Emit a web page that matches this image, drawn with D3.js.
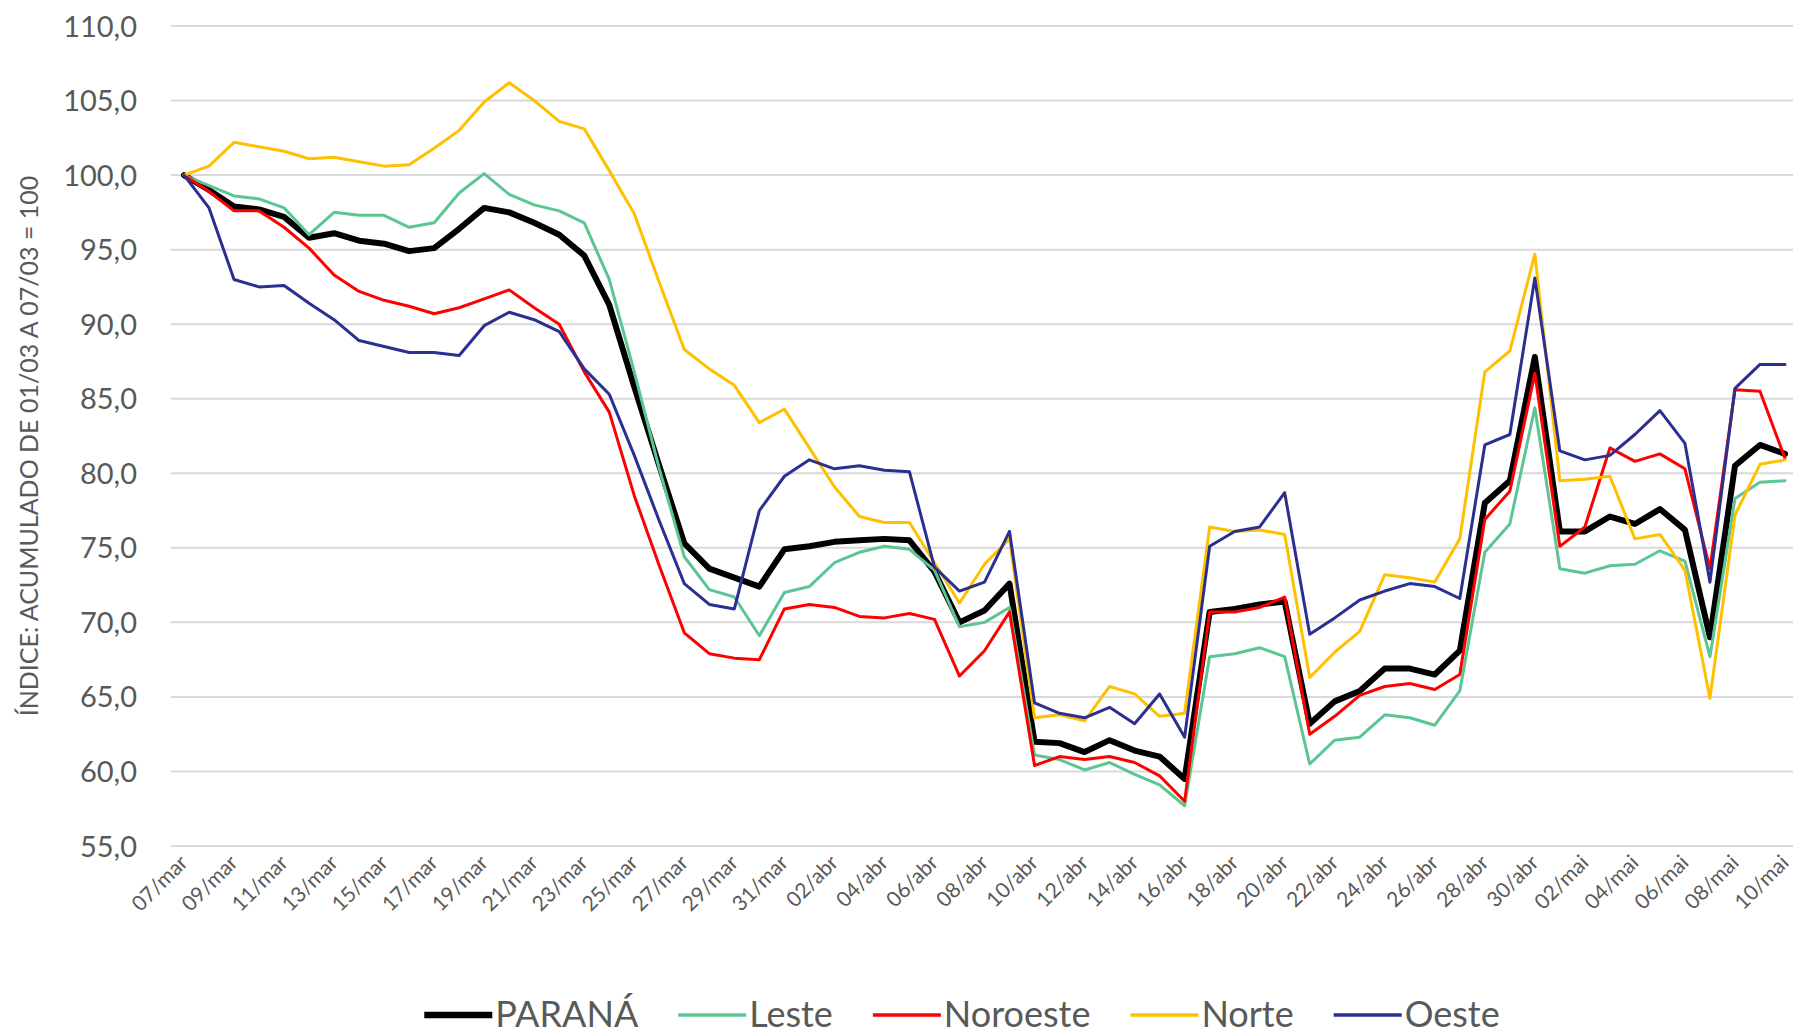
<!DOCTYPE html>
<html>
<head>
<meta charset="utf-8">
<script src="https://d3js.org/d3.v7.min.js"></script>
<style>
  body{
    margin:0;
    background:#fff;
    font-family: Lato, "Open Sans", sans-serif;
  }
  .grid-line{
    stroke:#d9d9d9;
    stroke-width:2px;
  }
  .axis-label{
    fill:#595959;
  }
  .series-line{
    fill:none;
    stroke-linejoin:round;
    stroke-linecap:round;
  }
</style>
</head>
<body>
<div id="chart"></div>
<script>
// categories: one per day, 07/mar to 10/mai
const monthNames = ['jan','fev','mar','abr','mai'];
const days = d3.timeDays(new Date(2020, 2, 7), new Date(2020, 4, 11));
const categories = days.map(d => d3.timeFormat('%d')(d) + '/' + monthNames[d.getMonth()]);

const parana = [100.0,99.0,97.9,97.7,97.2,95.8,96.1,95.6,95.4,94.9,95.1,96.4,97.8,97.5,96.8,96.0,94.6,91.3,85.8,80.5,
  75.3,73.6,73.0,72.4,74.9,75.1,75.4,75.5,75.6,75.5,73.4,70.0,70.8,72.6,62.0,61.9,61.3,62.1,61.4,61.0,
  59.5,70.7,70.9,71.2,71.4,63.2,64.7,65.4,66.9,66.9,66.5,68.1,78.0,79.5,87.8,76.1,76.1,77.1,76.6,77.6,
  76.2,69.0,80.5,81.9,81.3];
const leste = [100.0,99.3,98.6,98.4,97.8,96.0,97.5,97.3,97.3,96.5,96.8,98.8,100.1,98.7,98.0,97.6,96.8,93.0,86.8,80.3,
  74.4,72.2,71.7,69.1,72.0,72.4,74.0,74.7,75.1,74.9,73.5,69.7,70.0,71.0,61.1,60.8,60.1,60.6,59.8,59.1,
  57.7,67.7,67.9,68.3,67.7,60.5,62.1,62.3,63.8,63.6,63.1,65.4,74.7,76.6,84.4,73.6,73.3,73.8,73.9,74.8,
  74.1,67.7,78.3,79.4,79.5];
const noroeste = [100.0,98.9,97.6,97.6,96.5,95.1,93.3,92.2,91.6,91.2,90.7,91.1,91.7,92.3,91.1,90.0,86.8,84.1,78.5,73.8,
  69.3,67.9,67.6,67.5,70.9,71.2,71.0,70.4,70.3,70.6,70.2,66.4,68.1,70.7,60.4,61.0,60.8,61.0,60.6,59.7,
  58.0,70.7,70.7,71.0,71.7,62.5,63.7,65.1,65.7,65.9,65.5,66.5,76.9,78.8,86.7,75.1,76.4,81.7,80.8,81.3,
  80.3,73.6,85.6,85.5,81.0];
const norte = [100.0,100.6,102.2,101.9,101.6,101.1,101.2,100.9,100.6,100.7,101.8,103.0,104.9,106.2,105.0,103.6,103.1,100.3,97.4,92.8,
  88.3,87.0,85.9,83.4,84.3,81.7,79.1,77.1,76.7,76.7,74.0,71.3,73.9,75.6,63.6,63.8,63.4,65.7,65.2,63.7,
  63.9,76.4,76.1,76.2,75.9,66.3,68.0,69.4,73.2,73.0,72.7,75.6,86.8,88.2,94.7,79.5,79.6,79.8,75.6,75.9,
  73.5,64.9,77.2,80.6,80.9];
const oeste = [100.0,97.8,93.0,92.5,92.6,91.4,90.3,88.9,88.5,88.1,88.1,87.9,89.9,90.8,90.3,89.5,87.0,85.3,81.2,76.8,
  72.6,71.2,70.9,77.5,79.8,80.9,80.3,80.5,80.2,80.1,73.7,72.1,72.7,76.1,64.6,63.9,63.6,64.3,63.2,65.2,
  62.3,75.1,76.1,76.4,78.7,69.2,70.3,71.5,72.1,72.6,72.4,71.6,81.9,82.6,93.1,81.5,80.9,81.2,82.6,84.2,
  82.0,72.7,85.7,87.3,87.3];

const seriesNames = ['PARANÁ', 'Leste', 'Noroeste', 'Norte', 'Oeste'];
const seriesValues = [parana, leste, noroeste, norte, oeste];
const seriesColors = ['#000000', '#5cc594', '#ff0000', '#ffc000', '#2b2f8f'];
const seriesWidths = [6, 3, 3, 3, 3];

const yTicks = d3.range(55, 111, 5);
const yTitle = 'ÍNDICE: ACUMULADO DE 01/03 A 07/03 = 100';

const width = 1793;
const height = 1034;

const svg = d3.select('#chart')
  .append('svg')
  .attr('width', width)
  .attr('height', height);

const x = d3.scalePoint()
  .domain(categories)
  .range([184, 1785]);

const y = d3.scaleLinear()
  .domain([55, 110])
  .range([846, 26]);

const fmt = v => d3.format('.1f')(v).replace('.', ',');

// grid + y labels
svg.append('g')
  .selectAll('line')
  .data(yTicks)
  .join('line')
  .attr('class', 'grid-line')
  .attr('x1', 171)
  .attr('x2', width)
  .attr('y1', d => y(d))
  .attr('y2', d => y(d));

svg.append('g')
  .selectAll('text')
  .data(yTicks)
  .join('text')
  .attr('class', 'axis-label')
  .attr('x', 137)
  .attr('y', d => y(d) + 10.5)
  .attr('text-anchor', 'end')
  .style('font-size', '29px')
  .text(fmt);

// y title
svg.append('text')
  .attr('class', 'axis-label')
  .attr('transform', 'translate(38,446) rotate(-90)')
  .attr('text-anchor', 'middle')
  .style('font-size', '25px')
  .text(yTitle);

// x labels, every second day
svg.append('g')
  .selectAll('text')
  .data(categories.filter((c, i) => i % 2 === 0))
  .join('text')
  .attr('class', 'axis-label')
  .attr('text-anchor', 'end')
  .attr('transform', d => `translate(${x(d) + 5},864) rotate(-45)`)
  .style('font-size', '21px')
  .text(d => d);

// lines
const line = d3.line()
  .x((d, i) => x(categories[i]))
  .y(d => y(d));

svg.append('g')
  .selectAll('path')
  .data(seriesValues)
  .join('path')
  .attr('class', 'series-line')
  .attr('d', d => line(d))
  .attr('stroke', (d, i) => seriesColors[i])
  .attr('stroke-width', (d, i) => seriesWidths[i]);

// legend
const swatch = 68;
const legend = svg.append('g');
const items = legend.selectAll('g')
  .data(seriesNames)
  .join('g');

items.append('line')
  .attr('x1', 0)
  .attr('x2', swatch)
  .attr('y1', 1015)
  .attr('y2', 1015)
  .attr('stroke', (d, i) => seriesColors[i])
  .attr('stroke-width', (d, i) => seriesWidths[i] + 0.5);

items.append('text')
  .attr('class', 'axis-label')
  .attr('x', swatch + 3)
  .attr('y', 1027)
  .style('font-size', '36px')
  .text(d => d);

const widths = items.nodes().map(n => swatch + 3 + n.querySelector('text').getComputedTextLength());
const total = d3.sum(widths) + 40 * (widths.length - 1);
let offset = 962 - total / 2;
items.attr('transform', (d, i) => {
  const t = `translate(${offset},0)`;
  offset += widths[i] + 40;
  return t;
});
</script>
</body>
</html>
